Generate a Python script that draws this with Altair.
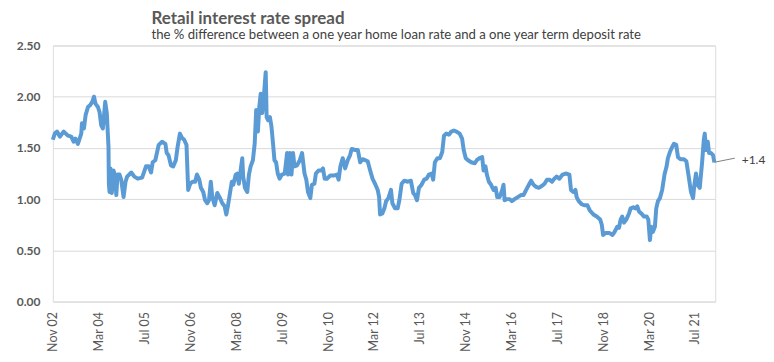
import altair as alt
import pandas as pd

# ---- data ----
dates = [
    "2002-11-01", "2002-11-22", "2002-12-16", "2003-01-14", "2003-02-25", "2003-04-10", "2003-05-16",
    "2003-06-10", "2003-06-29", "2003-07-25", "2003-08-30", "2003-09-06", "2003-09-27", "2003-10-15",
    "2003-11-09", "2003-12-04", "2003-12-25", "2004-01-12", "2004-01-29", "2004-02-23", "2004-03-11",
    "2004-03-29", "2004-04-15", "2004-04-26", "2004-05-10", "2004-05-27", "2004-06-14", "2004-06-18",
    "2004-06-25", "2004-07-05", "2004-07-19", "2004-08-07", "2004-08-24", "2004-09-05", "2004-09-18",
    "2004-10-09", "2004-10-27", "2004-11-21", "2004-12-12", "2004-12-29", "2005-02-11", "2005-03-15",
    "2005-04-20", "2005-06-06", "2005-07-17", "2005-08-14", "2005-09-09", "2005-09-26", "2005-10-24",
    "2005-11-29", "2006-01-04", "2006-02-08", "2006-02-22", "2006-03-13", "2006-04-08", "2006-05-02",
    "2006-05-30", "2006-06-16", "2006-07-12", "2006-08-02", "2006-08-26", "2006-09-20", "2006-10-08",
    "2006-10-29", "2006-11-23", "2006-12-21", "2007-01-09", "2007-02-03", "2007-02-20", "2007-03-17",
    "2007-04-05", "2007-04-29", "2007-05-17", "2007-06-05", "2007-06-21", "2007-07-16", "2007-08-13",
    "2007-09-11", "2007-10-05", "2007-10-30", "2007-11-17", "2007-12-05", "2007-12-26", "2008-01-14",
    "2008-01-30", "2008-02-25", "2008-03-12", "2008-03-29", "2008-04-17", "2008-05-04", "2008-05-14",
    "2008-06-02", "2008-06-26", "2008-07-14", "2008-08-01", "2008-08-25", "2008-09-13", "2008-09-29",
    "2008-10-17", "2008-11-01", "2008-11-16", "2008-12-02", "2008-12-20", "2009-01-08", "2009-01-18",
    "2009-02-02", "2009-02-22", "2009-03-10", "2009-03-27", "2009-04-11", "2009-04-28", "2009-05-16",
    "2009-06-04", "2009-06-29", "2009-07-29", "2009-08-23", "2009-09-03", "2009-09-21", "2009-10-09",
    "2009-10-25", "2009-11-10", "2009-12-07", "2010-01-05", "2010-01-29", "2010-02-24", "2010-03-15",
    "2010-04-02", "2010-04-27", "2010-05-13", "2010-06-09", "2010-06-25", "2010-07-23", "2010-08-21",
    "2010-09-08", "2010-09-26", "2010-10-20", "2010-11-25", "2010-12-29", "2011-02-04", "2011-02-21",
    "2011-03-12", "2011-04-06", "2011-05-01", "2011-05-29", "2011-06-23", "2011-07-10", "2011-08-16",
    "2011-09-13", "2011-10-08", "2011-11-02", "2011-11-29", "2011-12-27", "2012-01-22", "2012-02-16",
    "2012-03-14", "2012-04-11", "2012-04-26", "2012-05-06", "2012-05-30", "2012-06-21", "2012-07-09",
    "2012-08-03", "2012-08-30", "2012-09-14", "2012-10-12", "2012-11-09", "2012-11-27", "2012-12-21",
    "2013-01-19", "2013-02-24", "2013-03-29", "2013-04-23", "2013-05-11", "2013-06-02", "2013-06-23",
    "2013-07-20", "2013-08-18", "2013-09-12", "2013-10-07", "2013-11-04", "2013-11-21", "2013-12-09",
    "2014-01-06", "2014-02-01", "2014-02-25", "2014-03-16", "2014-04-10", "2014-05-08", "2014-06-02",
    "2014-06-29", "2014-07-24", "2014-08-29", "2014-09-24", "2014-10-11", "2014-11-02", "2014-11-26",
    "2014-12-30", "2015-02-06", "2015-02-27", "2015-03-28", "2015-04-25", "2015-05-10", "2015-05-30",
    "2015-06-14", "2015-07-05", "2015-07-29", "2015-08-24", "2015-09-15", "2015-10-02", "2015-10-27",
    "2015-11-24", "2015-12-08", "2015-12-19", "2016-01-13", "2016-02-11", "2016-03-05", "2016-04-03",
    "2016-05-07", "2016-06-12", "2016-07-07", "2016-08-04", "2016-09-02", "2016-09-26", "2016-10-21",
    "2016-11-18", "2016-12-16", "2017-01-20", "2017-02-15", "2017-03-13", "2017-04-08", "2017-05-05",
    "2017-05-30", "2017-06-24", "2017-07-22", "2017-08-26", "2017-09-29", "2017-11-06", "2017-11-23",
    "2017-12-18", "2018-01-09", "2018-01-22", "2018-02-13", "2018-03-17", "2018-04-12", "2018-05-17",
    "2018-06-10", "2018-07-19", "2018-08-23", "2018-09-29", "2018-10-16", "2018-10-30", "2018-11-27",
    "2019-01-03", "2019-02-07", "2019-03-01", "2019-03-29", "2019-04-17", "2019-05-04", "2019-05-21",
    "2019-06-09", "2019-07-03", "2019-08-01", "2019-08-18", "2019-09-16", "2019-10-10", "2019-10-28",
    "2019-11-15", "2019-12-09", "2020-01-08", "2020-02-05", "2020-02-22", "2020-03-10", "2020-03-24",
    "2020-04-11", "2020-05-02", "2020-05-16", "2020-06-03", "2020-06-24", "2020-07-18", "2020-08-12",
    "2020-09-03", "2020-09-17", "2020-10-08", "2020-11-02", "2020-11-20", "2020-12-14", "2021-01-02",
    "2021-01-29", "2021-03-04", "2021-04-01", "2021-04-26", "2021-05-20", "2021-06-11", "2021-06-25",
    "2021-07-12", "2021-07-30", "2021-08-21", "2021-09-15", "2021-10-03", "2021-10-13", "2021-10-27",
    "2021-11-14", "2021-11-28", "2021-12-19", "2022-01-09", "2022-01-23",
]
spread = [
    1.58, 1.64, 1.66, 1.61, 1.66, 1.62, 1.61,
    1.56, 1.59, 1.54, 1.64, 1.74, 1.69, 1.82,
    1.90, 1.92, 1.95, 2.00, 1.93, 1.90, 1.85,
    1.72, 1.69, 1.80, 1.95, 1.84, 1.51, 1.15,
    1.07, 1.30, 1.06, 1.28, 1.22, 1.04, 1.24,
    1.24, 1.19, 1.02, 1.17, 1.22, 1.26, 1.22,
    1.20, 1.21, 1.32, 1.32, 1.26, 1.36, 1.38,
    1.53, 1.56, 1.54, 1.45, 1.43, 1.33, 1.32,
    1.38, 1.50, 1.64, 1.60, 1.58, 1.53, 1.09,
    1.15, 1.17, 1.17, 1.24, 1.19, 1.11, 1.07,
    0.99, 0.96, 0.99, 1.17, 1.02, 0.94, 1.06,
    1.01, 0.96, 0.93, 0.85, 0.94, 1.06, 1.17,
    1.14, 1.24, 1.25, 1.15, 1.28, 1.40, 1.22,
    1.11, 1.07, 1.24, 1.32, 1.38, 1.54, 1.87,
    1.66, 1.90, 2.03, 1.84, 2.01, 2.24, 1.80,
    1.77, 1.80, 1.71, 1.54, 1.38, 1.36, 1.25,
    1.20, 1.24, 1.25, 1.45, 1.24, 1.45, 1.24,
    1.45, 1.32, 1.33, 1.38, 1.45, 1.25, 1.19,
    1.07, 1.01, 1.14, 1.15, 1.25, 1.28, 1.28,
    1.30, 1.20, 1.20, 1.23, 1.23, 1.24, 1.19,
    1.32, 1.40, 1.30, 1.38, 1.43, 1.49, 1.48,
    1.48, 1.36, 1.39, 1.38, 1.37, 1.28, 1.20,
    1.15, 1.09, 1.02, 0.85, 0.86, 0.91, 0.98,
    1.01, 1.09, 0.96, 0.91, 0.91, 0.99, 1.15,
    1.18, 1.17, 1.18, 1.06, 1.04, 0.99, 1.11,
    1.14, 1.19, 1.20, 1.24, 1.25, 1.19, 1.36,
    1.40, 1.40, 1.46, 1.62, 1.64, 1.63, 1.66,
    1.67, 1.66, 1.64, 1.59, 1.48, 1.40, 1.38,
    1.36, 1.35, 1.38, 1.40, 1.41, 1.28, 1.32,
    1.24, 1.17, 1.14, 1.09, 1.11, 1.02, 1.02,
    1.09, 1.14, 0.99, 1.00, 1.00, 0.98, 1.00,
    1.02, 1.04, 1.04, 1.09, 1.14, 1.18, 1.14,
    1.12, 1.11, 1.13, 1.15, 1.19, 1.19, 1.17,
    1.20, 1.22, 1.20, 1.24, 1.25, 1.24, 1.09,
    1.07, 1.09, 1.02, 0.98, 0.95, 0.94, 0.94,
    0.89, 0.85, 0.83, 0.80, 0.75, 0.65, 0.67,
    0.67, 0.65, 0.68, 0.73, 0.72, 0.80, 0.83,
    0.77, 0.80, 0.86, 0.91, 0.92, 0.91, 0.93,
    0.88, 0.86, 0.83, 0.83, 0.80, 0.60, 0.73,
    0.68, 0.73, 0.91, 0.98, 1.01, 1.09, 1.24,
    1.32, 1.40, 1.46, 1.51, 1.54, 1.53, 1.41,
    1.39, 1.39, 1.37, 1.22, 1.07, 1.01, 1.14,
    1.25, 1.14, 1.11, 1.36, 1.58, 1.64, 1.48,
    1.56, 1.45, 1.45, 1.43, 1.36,
]

# x-axis tick labels (every 16 months)
tick_years = [2002, 2004, 2005, 2006, 2008, 2009, 2010, 2012, 2013, 2014, 2016, 2017, 2018, 2020, 2021]
tick_months = [11, 3, 7, 11, 3, 7, 11, 3, 7, 11, 3, 7, 11, 3, 7]
y_ticks = [0.0, 0.5, 1.0, 1.5, 2.0, 2.5]

# end-of-series annotation
note_text = ["+1.4"]
note_line_dates = ["2022-01-23", "2022-08-28"]
note_line_vals = [1.36, 1.40]
note_text_date = ["2022-11-10"]
note_text_val = [1.38]

title = "Retail interest rate spread"
subtitle = "the % difference between a one year home loan rate and a one year term deposit rate"

# ---- build ----
df = pd.DataFrame({"date": pd.to_datetime(dates), "spread": spread})
df_line = pd.DataFrame({"date": pd.to_datetime(note_line_dates), "v": note_line_vals})
df_text = pd.DataFrame({"date": pd.to_datetime(note_text_date), "v": note_text_val, "t": note_text})

FONT = "Lato"
x_scale = alt.Scale(domain=[alt.DateTime(year=2002, month=11, date=1),
                            alt.DateTime(year=2022, month=2, date=1)])
y_scale = alt.Scale(domain=[0, 2.5])

x_axis = alt.Axis(
    values=[alt.DateTime(year=y, month=m, date=1) for y, m in zip(tick_years, tick_months)],
    format="%b %y", labelAngle=270, labelAlign="right", labelBaseline="middle",
    labelPadding=10, grid=False, ticks=False, domain=False, title=None,
    labelFont=FONT, labelFontSize=12.5, labelColor="#595959",
)
y_axis = alt.Axis(
    values=y_ticks, format=".2f", grid=True, gridColor="#d9d9d9", gridWidth=1,
    ticks=False, domain=False, title=None, labelPadding=13,
    labelFont=FONT, labelFontSize=12, labelFontWeight="bold", labelColor="#595959",
)

line = alt.Chart(df).mark_line(color="#5b9bd5", strokeWidth=4, strokeJoin="round").encode(
    x=alt.X("date:T", scale=x_scale, axis=x_axis),
    y=alt.Y("spread:Q", scale=y_scale, axis=y_axis),
)

leader = alt.Chart(df_line).mark_line(color="#7f7f7f", strokeWidth=1, clip=False, interpolate="monotone").encode(
    x=alt.X("date:T", scale=x_scale),
    y=alt.Y("v:Q", scale=y_scale),
)

label = alt.Chart(df_text).mark_text(
    align="left", baseline="middle", font=FONT, fontSize=12, color="#404040", clip=False
).encode(
    x=alt.X("date:T", scale=x_scale),
    y=alt.Y("v:Q", scale=y_scale),
    text="t:N",
)

chart = alt.layer(line, leader, label).properties(
    width=665, height=257,
    autosize=alt.AutoSizeParams(type="none"),
    padding={"left": 45, "top": 37, "right": 51, "bottom": 52},
    title=alt.TitleParams(
        text=title, subtitle=subtitle, anchor="start", frame="group", dx=99, offset=-3,
        font=FONT, fontSize=17, fontWeight="bold", color="#595959",
        subtitleFont=FONT, subtitleFontSize=13.2, subtitleColor="#404040", subtitlePadding=1,
    ),
).configure_view(stroke=None).configure(background="white")

chart.save("out.html", embed_options={"renderer": "svg", "actions": False})
